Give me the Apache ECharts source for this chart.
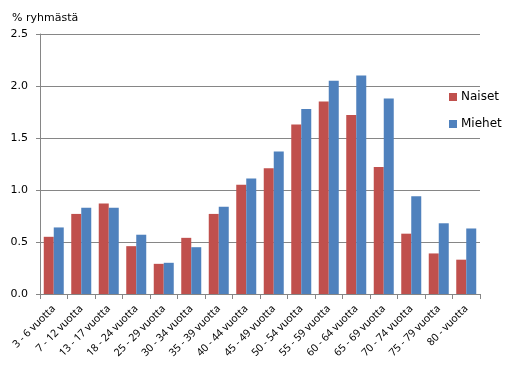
<!DOCTYPE html>
<html><head><meta charset="utf-8">
<script src="https://cdn.jsdelivr.net/npm/echarts@6/dist/echarts.min.js"></script>
<style>html,body{margin:0;padding:0;background:#fff}#c{width:512px;height:387px}</style>
</head><body><div id="c"></div>
<script>
var categories = ["3 - 6 vuotta","7 - 12 vuotta","13 - 17 vuotta","18 - 24 vuotta","25 - 29 vuotta","30 - 34 vuotta","35 - 39 vuotta","40 - 44 vuotta","45 - 49 vuotta","50 - 54 vuotta","55 - 59 vuotta","60 - 64 vuotta","65 - 69 vuotta","70 - 74 vuotta","75 - 79 vuotta","80 - vuotta"];
var naiset = [0.55,0.77,0.87,0.46,0.29,0.54,0.77,1.05,1.21,1.63,1.85,1.72,1.22,0.58,0.39,0.33];
var miehet = [0.64,0.83,0.83,0.57,0.30,0.45,0.84,1.11,1.37,1.78,2.05,2.10,1.88,0.94,0.68,0.63];
var seriesNames = ["Naiset","Miehet"];
var yTitle = "% ryhmästä";
var font = "DejaVu Sans";
var labelFont = "Noto Sans";
var chart = echarts.init(document.getElementById('c'));
chart.setOption({
  animation:false,
  textStyle:{fontFamily:font},
  title:{text:yTitle,left:7,top:8,textStyle:{fontSize:11,fontWeight:'normal',color:'#000',fontFamily:font}},
  legend:{orient:'vertical',left:444,top:86,itemWidth:8,itemHeight:8,itemGap:15,icon:'rect',
    textStyle:{fontSize:12,color:'#000',fontFamily:font,padding:[0,0,0,-1]}, data:seriesNames},
  grid:{left:40,right:32,top:34,bottom:93,containLabel:false},
  xAxis:{type:'category',data:categories,
    axisLine:{lineStyle:{color:'#868686'}},
    axisTick:{show:true,alignWithLabel:false,length:5,lineStyle:{color:'#868686'}},
    axisLabel:{rotate:45,interval:0,fontSize:10.5,color:'#000',margin:13,fontFamily:labelFont}},
  yAxis:{type:'value',min:0,max:2.5,interval:0.5,
    axisLine:{show:true,lineStyle:{color:'#868686'}},
    axisTick:{show:true,length:4,lineStyle:{color:'#868686'}},
    splitLine:{lineStyle:{color:'#868686'}},
    axisLabel:{fontSize:11,color:'#000',margin:12,formatter:function(v){return v.toFixed(1);}}},
  series:[
    {name:seriesNames[0],type:'bar',data:naiset,barWidth:10,barGap:'0%',itemStyle:{color:'#C0504D'}},
    {name:seriesNames[1],type:'bar',data:miehet,barWidth:10,barGap:'0%',itemStyle:{color:'#4F81BD'}}
  ]
});
</script></body></html>
